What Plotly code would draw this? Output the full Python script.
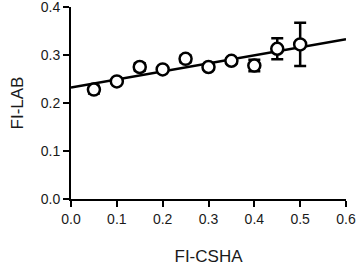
import plotly.graph_objects as go

x_vals = [0.05, 0.10, 0.15, 0.20, 0.25, 0.30, 0.35, 0.40, 0.45, 0.50]
y_vals = [0.228, 0.245, 0.275, 0.270, 0.292, 0.275, 0.288, 0.278, 0.313, 0.322]
y_err = [0.008, 0.005, 0.008, 0.005, 0.007, 0.005, 0.005, 0.012, 0.022, 0.045]
fit_x = [0.0, 0.6]
fit_intercept = 0.232
fit_slope = 0.168
fit_y = [fit_intercept + fit_slope * v for v in fit_x]

x_ticks = [0.0, 0.1, 0.2, 0.3, 0.4, 0.5, 0.6]
y_ticks = [0.0, 0.1, 0.2, 0.3, 0.4]

fig = go.Figure()
fig.add_trace(go.Scatter(x=fit_x, y=fit_y, mode="lines",
                         line=dict(color="black", width=2.5), showlegend=False,
                         cliponaxis=False))
fig.add_trace(go.Scatter(
    x=x_vals, y=y_vals, mode="markers",
    error_y=dict(type="data", array=y_err, color="black", thickness=2.5, width=6),
    marker=dict(size=12, color="white", line=dict(color="black", width=2.5)),
    showlegend=False, cliponaxis=False))

font = "Liberation Sans, Arial, sans-serif"
fig.update_layout(
    width=358, height=270,
    margin=dict(l=71, r=12, t=7, b=71),
    plot_bgcolor="white", paper_bgcolor="white",
    font=dict(family=font, color="#1a1a1a", size=14),
    xaxis=dict(range=[0, 0.6], tickvals=x_ticks, ticktext=[f"{v:.1f}" for v in x_ticks],
               showgrid=False, zeroline=False, showline=True, linecolor="black", linewidth=2,
               ticks="outside", ticklen=6, tickwidth=2, tickcolor="black",
               ticklabeloverflow="allow", tickfont=dict(size=14), automargin=False,
               title=dict(text="FI-CSHA", font=dict(size=17), standoff=24)),
    yaxis=dict(range=[0, 0.4], tickvals=y_ticks, ticktext=[f"{v:.1f}" for v in y_ticks],
               showgrid=False, zeroline=False, showline=True, linecolor="black", linewidth=2,
               ticks="outside", ticklen=6, tickwidth=2, tickcolor="black",
               ticklabeloverflow="allow", tickfont=dict(size=14), automargin=False,
               title=dict(text="FI-LAB", font=dict(size=17), standoff=13)),
)
fig.write_html("out.html", config={"displayModeBar": False},
               post_script="document.body.style.margin='0';")
